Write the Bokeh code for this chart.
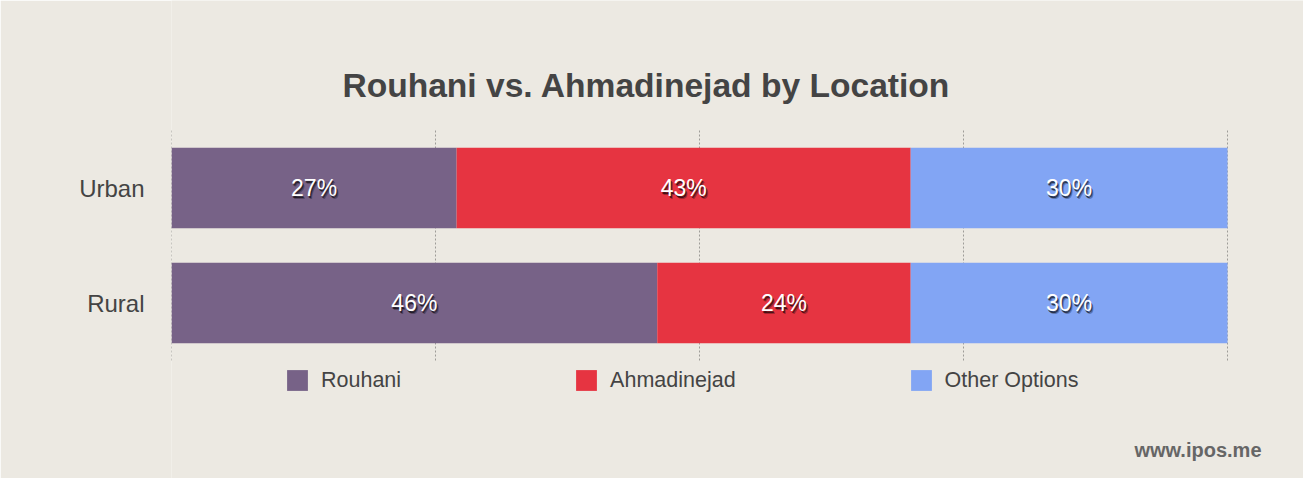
from bokeh.plotting import figure
from bokeh.models import Range1d, FixedTicker, Legend, LegendItem, ColumnDataSource, Label
from bokeh.core.properties import value
from bokeh.embed import file_html
from bokeh.resources import INLINE

title_text = "Rouhani vs. Ahmadinejad by Location"
locations = ["Urban", "Rural"]
series = ["Rouhani", "Ahmadinejad", "Other Options"]
rouhani = [27, 46]
ahmadinejad = [43, 24]
other = [30, 30]
colors = ["#776287", "#e63441", "#82a5f4"]
grid_ticks = [0, 25, 50, 75, 100]
watermark = "www.ipos.me"

BG = "#ece9e2"
FONT = "Liberation Sans"

# layout (pixels): bars region 171..1227 x, 130..360 y ; canvas 1303 x 478
W, H = 1303, 478
LEFT = 171
PX_PER_PCT = 1056 / 100.0
PX_PER_ROW = 115.0
BAR_BOTTOM_PX = 360  # pixel row of y = 0

x_end = (W - LEFT) / PX_PER_PCT
y_start = -(H - BAR_BOTTOM_PX) / PX_PER_ROW
y_end = BAR_BOTTOM_PX / PX_PER_ROW

n = len(locations)
ypos = [n - 0.5 - i for i in range(n)]

p = figure(width=W, height=H, output_backend="svg", toolbar_location=None,
           x_range=Range1d(0, x_end), y_range=Range1d(y_start, y_end),
           min_border_left=LEFT, min_border_right=0, min_border_top=0, min_border_bottom=0)
p.background_fill_color = BG
p.border_fill_color = BG
p.outline_line_color = None
p.xaxis.visible = False
p.xgrid.visible = False
p.ygrid.visible = False

# dotted vertical grid lines spanning the bar area
p.segment(x0=grid_ticks, x1=grid_ticks, y0=[0] * len(grid_ticks), y1=[n] * len(grid_ticks),
          line_color="#9e9c98", line_dash="2 2", line_width=1)

vals = [rouhani, ahmadinejad, other]
left = [0] * n
renderers = []
for name, v, c in zip(series, vals, colors):
    right = [l + x for l, x in zip(left, v)]
    src = ColumnDataSource(dict(y=ypos, left=left, right=right,
                                mid=[(l + r) / 2 for l, r in zip(left, right)],
                                lbl=[f"{x}%" for x in v]))
    r = p.hbar(y="y", left="left", right="right", height=0.7, fill_color=c, line_color=None, source=src)
    renderers.append(r)
    p.text(x="mid", y="y", text="lbl", source=src, x_offset=2, y_offset=3,
           text_color="#000000", text_alpha=0.3, text_font=value(FONT), text_font_size="23px",
           text_align="center", text_baseline="middle")
    p.text(x="mid", y="y", text="lbl", source=src, x_offset=1, y_offset=2,
           text_color="#000000", text_alpha=0.6, text_font=value(FONT), text_font_size="23px",
           text_align="center", text_baseline="middle")
    p.text(x="mid", y="y", text="lbl", source=src,
           text_color="#ffffff", text_font=value(FONT), text_font_size="23px",
           text_align="center", text_baseline="middle")
    left = right

ya = p.yaxis[0]
ya.ticker = FixedTicker(ticks=ypos)
ya.major_label_overrides = {y: loc for y, loc in zip(ypos, locations)}
ya.axis_line_color = None
ya.major_tick_line_color = None
ya.minor_tick_line_color = None
ya.major_tick_out = 0
ya.major_label_standoff = 27
ya.major_label_text_font = FONT
ya.major_label_text_font_size = "24px"
ya.major_label_text_color = "#444444"

legend = Legend(items=[LegendItem(label=s, renderers=[r]) for s, r in zip(series, renderers)],
                orientation="horizontal", location=(113, H - 393),
                glyph_width=26, glyph_height=26, label_standoff=11, spacing=172,
                padding=0, margin=0, border_line_color=None, background_fill_alpha=0,
                label_text_font=FONT, label_text_font_size="21.5px", label_text_color="#444444",
                label_height=21)
p.add_layout(legend, "center")

p.add_layout(Label(x=646 - LEFT, y=H - 85, x_units="screen", y_units="screen", text=title_text,
                   text_font=FONT, text_font_size="33.6px", text_font_style="bold",
                   text_color="#444444", text_align="center", text_baseline="middle"))
p.add_layout(Label(x=1261 - LEFT, y=H - 449, x_units="screen", y_units="screen", text=watermark,
                   text_font=FONT, text_font_size="20px", text_font_style="bold",
                   text_color="#666666", text_align="right", text_baseline="middle"))

html = file_html(p, INLINE)
html = html.replace("<body>", f'<body style="margin:0;background:{BG}">', 1)
open("out.html", "w").write(html)
